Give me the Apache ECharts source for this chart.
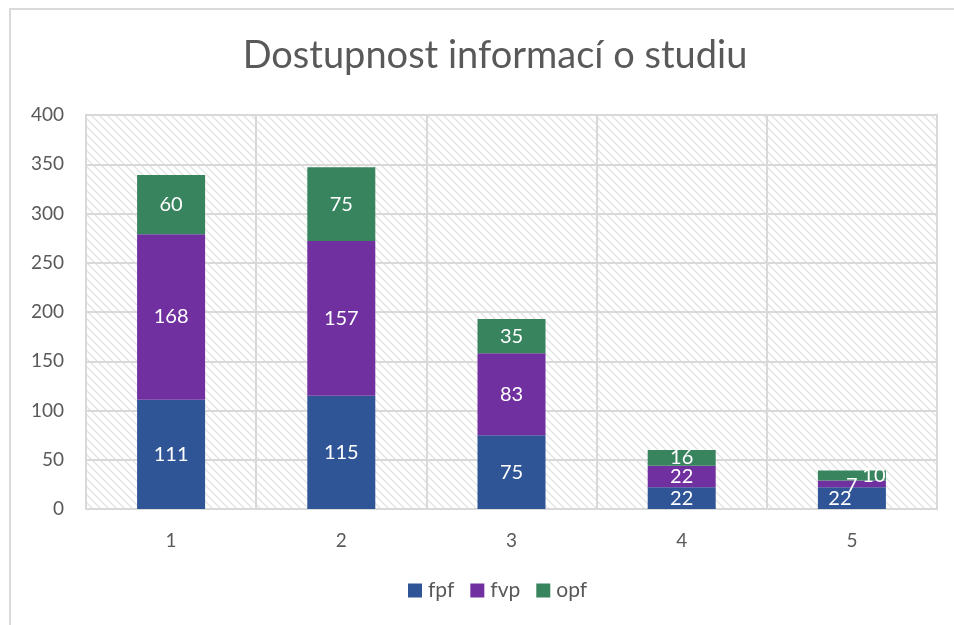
<!DOCTYPE html>
<html>
<head>
<meta charset="utf-8">
<script src="https://cdn.jsdelivr.net/npm/echarts@6/dist/echarts.min.js"></script>
<style>
  html, body { margin: 0; padding: 0; background: #fff; }
  #main { width: 954px; height: 625px; }
</style>
</head>
<body>
<div id="main"></div>
<script>
// data
var categories = ['1', '2', '3', '4', '5'];
var fpf = [111, 115, 75, 22, 22];
var fvp = [168, 157, 83, 22, 7];
var opf = [60, 75, 35, 16, 10];
var yTicks = [0, 50, 100, 150, 200, 250, 300, 350, 400];

// hatched plot background, like the excel pattern fill
function makeHatch() {
    var c = document.createElement('canvas');
    c.width = 8; c.height = 8;
    var ctx = c.getContext('2d');
    ctx.fillStyle = '#ffffff';
    ctx.fillRect(0, 0, 8, 8);
    ctx.strokeStyle = '#e2e2e2';
    ctx.lineWidth = 1.3;
    ctx.beginPath();
    ctx.moveTo(-2, -2); ctx.lineTo(10, 10);
    ctx.moveTo(-10, -2); ctx.lineTo(2, 10);
    ctx.moveTo(6, -2); ctx.lineTo(18, 10);
    ctx.stroke();
    return c;
}

var font = 'Lato, "Open Sans", sans-serif';
var textGray = '#595959';

function labelCfg() {
    return { show: true, position: 'inside', color: '#fff', fontSize: 20, fontFamily: font };
}

var chart = echarts.init(document.getElementById('main'));
var option = {
    backgroundColor: '#fff',
    animation: false,
    title: {
        text: 'Dostupnost informací o studiu',
        left: 490,
        textAlign: 'center',
        top: 32,
        textStyle: { color: textGray, fontSize: 38, fontWeight: 'normal', fontFamily: font }
    },
    graphic: [{
        type: 'polyline',
        shape: { points: [[10, 640], [10, 9], [960, 9]] },
        style: { stroke: '#d9d9d9', lineWidth: 2, fill: null }
    }],
    legend: {
        bottom: 19,
        left: 403,
        itemWidth: 14,
        itemHeight: 14,
        itemGap: 16,
        icon: 'rect',
        textStyle: { color: textGray, fontSize: 21, fontFamily: font, padding: [0, 0, 0, 1] },
        data: ['fpf', 'fvp', 'opf']
    },
    grid: {
        left: 86, right: 17, top: 115, bottom: 116,
        show: true,
        borderColor: '#d9d9d9',
        borderWidth: 2,
        backgroundColor: { image: makeHatch(), repeat: 'repeat' }
    },
    xAxis: {
        type: 'category',
        data: categories,
        axisLine: { lineStyle: { color: '#d9d9d9', width: 2 } },
        axisTick: { show: false },
        axisLabel: { color: textGray, fontSize: 19, fontFamily: font, margin: 22 },
        splitLine: { show: true, lineStyle: { color: '#d9d9d9', width: 2 } }
    },
    yAxis: {
        type: 'value',
        min: yTicks[0],
        max: yTicks[yTicks.length - 1],
        interval: 50,
        axisLine: { show: false },
        axisTick: { show: false },
        axisLabel: { color: textGray, fontSize: 19, fontFamily: font, margin: 22 },
        splitLine: { lineStyle: { color: '#d9d9d9', width: 2 } }
    },
    series: [
        {
            name: 'fpf', type: 'bar', stack: 'a', barWidth: 68,
            itemStyle: { color: '#2F5597' },
            label: labelCfg(),
            data: fpf.map(function (v, i) {
                return i === 4 ? { value: v, label: { offset: [-12, 0] } } : v;
            })
        },
        {
            name: 'fvp', type: 'bar', stack: 'a', barWidth: 68,
            itemStyle: { color: '#7030A0' },
            label: labelCfg(),
            data: fvp.map(function (v, i) {
                return i === 4 ? { value: v, label: { offset: [0, 2] } } : v;
            })
        },
        {
            name: 'opf', type: 'bar', stack: 'a', barWidth: 68,
            itemStyle: { color: '#38845F' },
            label: labelCfg(),
            data: opf.map(function (v, i) {
                return i === 4 ? { value: v, label: { offset: [22, 0] } } : v;
            })
        }
    ]
};
chart.setOption(option);
</script>
</body>
</html>
